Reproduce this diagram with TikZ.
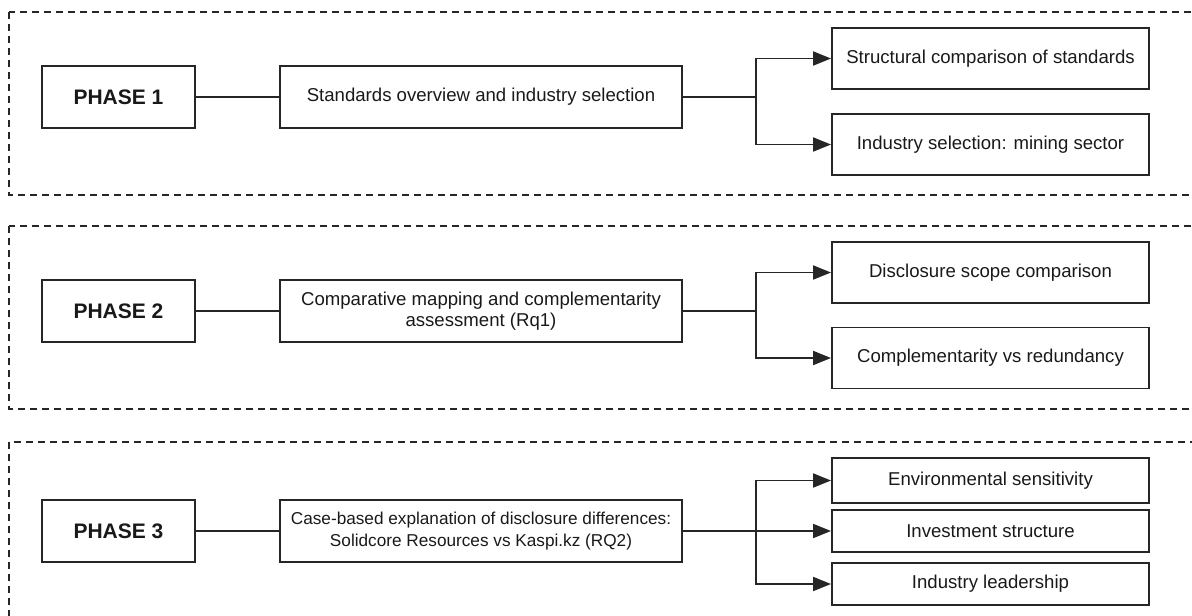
\documentclass[tikz,border=0pt]{standalone}
\usepackage{fontspec}
\setmainfont{Liberation Sans}
\usetikzlibrary{arrows.meta}
\newcommand\boxColor{black!85}
\newcommand\textColor{black!90}
\newcommand\boxLineWidth{1.9pt}
\newcommand\frameLineWidth{1.3pt}
\newcommand\branchX{756}
\newcommand\bodySize{\fontsize{18.6}{21.5}\selectfont}

\tikzset{
    phasebox/.style={draw=\boxColor, line width=\boxLineWidth, text=\textColor, minimum width=153pt, minimum height=62pt, inner sep=0pt, font=\bfseries\fontsize{21}{25}\selectfont},
    stagebox/.style={draw=\boxColor, line width=\boxLineWidth, text=\textColor, minimum width=402pt, minimum height=62pt, inner sep=0pt, align=center, font=\bodySize},
    itembox/.style={draw=\boxColor, line width=\boxLineWidth, text=\textColor, minimum width=317pt, minimum height=61pt, inner sep=0pt, font=\bodySize},
    phaseframe/.style={draw=\boxColor, line width=\frameLineWidth, dash pattern=on 7pt off 5pt},
    link/.style={draw=\boxColor, line width=\boxLineWidth},
    arrowlink/.style={link, -{Triangle[length=18pt,width=14pt]}}
}

\begin{document}
\begin{tikzpicture}[x=1pt, y=-1pt]

    \useasboundingbox (0,0) rectangle (1192,616);

%   dashed frames
    \draw [phaseframe] (9,12) rectangle (1215,195);
    \draw [phaseframe] (9,226) rectangle (1215,409);
    \draw [phaseframe] (9,442) rectangle (1215,640);

%Phase One
    \node (Phase_1) [phasebox] at (118.5,97) {PHASE 1};
    \node (Stage_1) [stagebox] at (481,97) {Standards overview and industry selection};
    \node (Item_1_a) [itembox] at (990.5,58.5) {Structural comparison of standards};
    \node (Item_1_b) [itembox] at (990.5,144.5) {Industry selection: mining sector};
    \coordinate (Branch_1) at (\branchX,97);

    \draw [link] (Phase_1.east) -- (Stage_1.west);
    \draw [link] (Stage_1.east) -- (Branch_1);
    \draw [arrowlink] (Branch_1) |- (Item_1_a.west);
    \draw [arrowlink] (Branch_1) |- (Item_1_b.west);

%Phase Two
    \node (Phase_2) [phasebox] at (118.5,311) {PHASE 2};
    \node (Stage_2) [stagebox] at (481,311) {Comparative mapping and complementarity\\assessment (Rq1)};
    \node (Item_2_a) [itembox] at (990.5,272.5) {Disclosure scope comparison};
    \node (Item_2_b) [itembox] at (990.5,358) {Complementarity vs redundancy};
    \coordinate (Branch_2) at (\branchX,311);

    \draw [link] (Phase_2.east) -- (Stage_2.west);
    \draw [link] (Stage_2.east) -- (Branch_2);
    \draw [arrowlink] (Branch_2) |- (Item_2_a.west);
    \draw [arrowlink] (Branch_2) |- (Item_2_b.west);

%Phase Three
    \node (Phase_3) [phasebox] at (118.5,531) {PHASE 3};
    \node (Stage_3) [stagebox, font=\fontsize{17.2}{21.5}\selectfont] at (481,531) {Case-based explanation of disclosure differences:\\Solidcore Resources vs Kaspi.kz (RQ2)};
    \node (Item_3_a) [itembox, minimum height=45pt] at (990.5,480.5) {Environmental sensitivity};
    \node (Item_3_b) [itembox, minimum height=42pt] at (990.5,531) {Investment structure};
    \node (Item_3_c) [itembox, minimum height=42pt] at (990.5,584) {Industry leadership};
    \coordinate (Branch_3) at (\branchX,531);

    \draw [link] (Phase_3.east) -- (Stage_3.west);
    \draw [arrowlink] (Stage_3.east) -- (Item_3_b.west);
    \draw [arrowlink] (Branch_3) |- (Item_3_a.west);
    \draw [arrowlink] (Branch_3) |- (Item_3_c.west);

\end{tikzpicture}
\end{document}
